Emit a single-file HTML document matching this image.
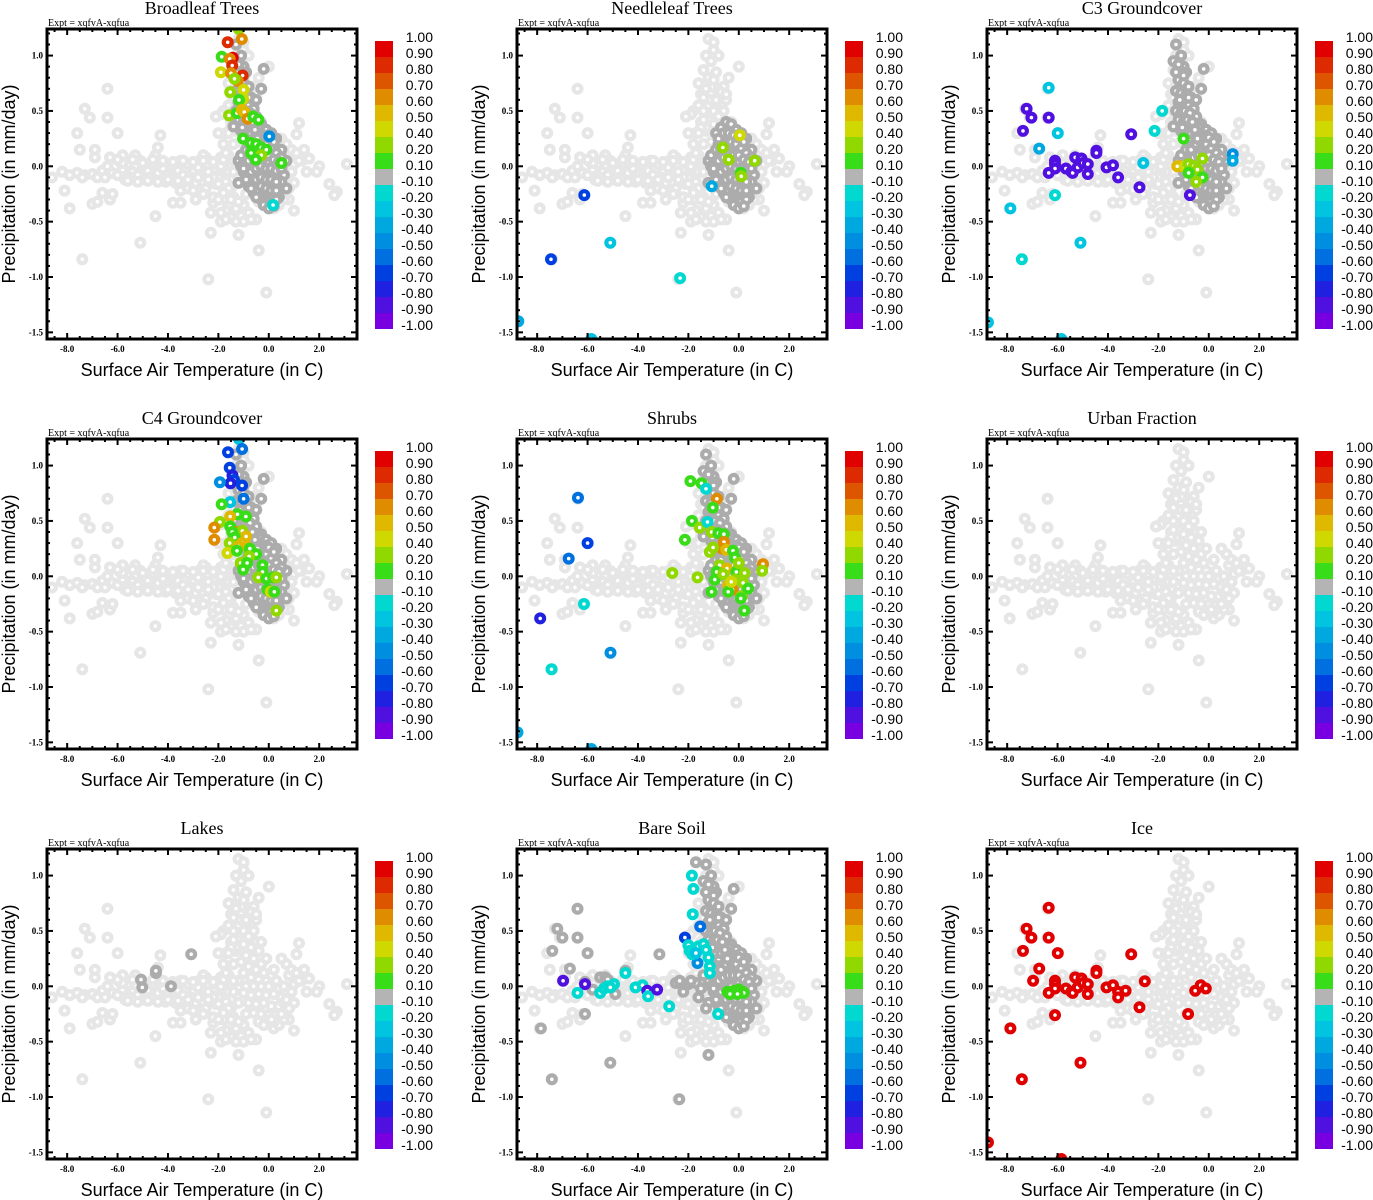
<!DOCTYPE html>
<html><head><meta charset="utf-8"><style>
html,body{margin:0;padding:0;background:#fff}
svg{display:block}
</style></head><body>
<svg id="fig" xmlns="http://www.w3.org/2000/svg" width="1373" height="1200" viewBox="0 0 1373 1200"></svg>
<script>
// shared background cloud (T in C, P in mm/day)
const cloudT=[-8.6,-8.2,-7.9,-7.6,-7.3,-7.0,-6.8,-6.6,-6.4,-6.2,-6.0,-5.8,-5.6,-5.4,-5.2,-5.0,-4.8,-4.6,-4.4,-4.2,-4.0,-3.8,-3.6,-3.4,-3.2,-3.0,-2.8,-2.6,-2.4,-2.2,-2.0,-1.8,-1.6,-6.5,-5.9,-5.5,-5.1,-4.7,-4.3,-3.9,-3.5,-3.1,-2.7,-2.3,-1.9,-1.5,-7.4,-6.9,-6.3,-5.3,-4.5,-3.7,-2.9,-2.5,-5.7,-4.9,-4.1,-3.3,-2.1,-1.7,
-7.6,-7.3,-7.1,-6.4,-6.4,-6.0,-7.9,-7.4,-5.1,-2.4,-0.1,-8.1,-6.6,-6.3,-7.0,-6.8,-4.5,-3.8,-3.5,-1.9,-1.5,-1.2,-0.5,-0.4,1.2,1.1,1.6,2.0,2.4,2.7,2.6,3.1,1.9,1.0,0.8,-4.4,-4.3,-5.8,-7.5,-6.9,-1.6,-1.8,-2.0,-1.9,-2.6,-2.9,-2.2,-2.5,-1.3,-1.7,-1.0,0.2,0.4,0.6,0.8,0.9,1.3,1.5,0.7,0.5,-2.3,-3.2,-2.8,-1.4,-1.1,-0.8,
-1.2,-1.0,-1.3,-1.1,-0.9,-1.4,-1.2,-1.0,-0.8,-1.3,-1.5,-1.1,-0.7,-0.9,-1.2,-1.4,-1.0,-0.6,-0.8,-1.2,-1.5,-0.5,-1.0,-0.7,-1.3,-0.4,-0.9,-0.6,-1.1,-0.3,-0.8,-0.5,-1.0,-0.2,0.2,-0.7,-0.4,-0.1,0.3,-1.2,-0.9,-0.6,-0.3,0.0,0.4,-1.0,-0.7,-0.4,-0.1,0.2,0.5,-0.8,-0.5,-0.2,0.1,0.4,-0.6,-0.3,0.0,0.3,-0.4,-0.1,0.2,0.5,0.6,0.6,-0.1,-0.3,-1.4,-1.6,-1.4,-1.6,-1.8,-2.0,-0.6,-1.0,-0.8,-1.7,-1.9,-1.2,-0.9,-1.5,-0.2,0.1,-1.8,-1.3,-0.5,0.0,1.0,0.9,-2.2,-2.4,
-6.2,-5.8,-5.4,-5.0,-4.6,-4.2,-3.8,-3.4,-3.0,-2.6,-2.2,-1.8,-1.4,-6.0,-5.6,-5.2,-4.8,-4.4,-4.0,-3.6,-3.2,-2.8,-2.4,-2.0,-1.6,-3.5,-3.0,-2.6,-2.2,-1.8,-2.0,-2.3,-1.7,-1.3,-1.0,-0.7,-1.9,-1.5,-1.2,0.8,1.0,1.2,0.9,0.7,1.1,1.4,-1.7,-1.5,-1.6,-2.1,-1.4,-1.1,-0.9,-0.7,-0.5,-1.4,-1.6,-0.6,-0.4];
const cloudP=[-0.1,-0.05,-0.08,-0.06,-0.08,-0.07,-0.1,-0.04,0.0,-0.06,-0.08,-0.03,0.02,-0.05,-0.08,0.0,-0.04,0.02,-0.06,-0.02,-0.08,0.0,-0.04,-0.08,0.02,-0.05,-0.01,-0.07,0.0,-0.04,-0.08,0.0,-0.05,-0.1,0.04,-0.1,0.05,-0.1,0.04,-0.12,0.05,-0.1,0.06,-0.12,0.08,-0.12,-0.1,0.08,0.08,0.1,0.1,-0.15,-0.15,0.08,-0.12,-0.12,-0.14,-0.16,-0.16,-0.14,
0.3,0.52,0.44,0.7,0.44,0.3,-0.38,-0.84,-0.69,-1.02,-1.14,-0.22,-0.24,-0.3,-0.34,-0.32,-0.45,-0.33,-0.33,-0.5,-0.46,-0.62,-0.48,-0.76,0.39,0.29,0.07,0.0,-0.16,-0.23,-0.26,0.02,-0.05,-0.15,-0.3,0.17,0.28,0.1,0.15,0.15,0.55,0.5,0.3,0.47,0.1,-0.3,-0.33,-0.2,-0.38,-0.4,-0.35,-0.38,-0.35,-0.3,0.1,-0.05,0.05,-0.05,0.2,0.25,-0.6,-0.2,-0.22,-0.28,-0.45,-0.42,
1.15,1.12,1.0,0.95,0.85,0.87,0.8,0.78,0.7,0.7,0.65,0.65,0.62,0.57,0.55,0.5,0.5,0.5,0.45,0.42,0.4,0.4,0.38,0.35,0.32,0.32,0.28,0.25,0.22,0.2,0.18,0.15,0.12,0.12,0.15,0.08,0.06,0.05,0.05,0.05,0.0,0.0,0.0,0.0,-0.02,-0.06,-0.08,-0.07,-0.08,-0.07,-0.1,-0.15,-0.16,-0.15,-0.18,-0.18,-0.24,-0.25,-0.26,-0.26,-0.32,-0.33,-0.32,-0.25,0.0,-0.15,0.25,0.4,0.2,0.1,-0.05,-0.2,0.2,-0.1,0.72,1.05,1.0,0.3,0.0,-0.15,-0.25,-0.2,-0.35,-0.3,-0.3,0.35,0.6,0.9,-0.4,0.15,-0.1,-0.05,-0.25,
0.03,0.06,0.03,0.06,0.05,0.04,0.05,0.04,0.05,0.04,0.06,0.05,0.06,-0.13,-0.14,-0.13,-0.14,-0.12,-0.13,-0.12,-0.1,-0.12,-0.16,-0.2,-0.22,-0.22,-0.25,-0.28,-0.24,-0.3,-0.42,-0.48,-0.5,-0.5,-0.48,-0.42,-0.3,-0.32,-0.2,0.02,0.05,-0.05,-0.12,0.12,0.15,0.12,0.35,0.3,0.45,0.42,0.6,0.6,0.67,0.65,0.62,0.75,0.25,0.8,0.68];
// dense lower blob (dark in vegetated panels)
const blobT=[-1.2,-1.0,-0.8,-0.6,-0.4,-0.2,0.0,0.2,0.4,0.6,-1.1,-0.9,-0.7,-0.5,-0.3,-0.1,0.1,0.3,0.5,-1.0,-0.8,-0.6,-0.4,-0.2,0.0,0.2,0.4,0.6,-0.9,-0.7,-0.5,-0.3,-0.1,0.1,0.3,0.5,-0.8,-0.6,-0.4,-0.2,0.0,0.2,0.4,-0.6,-0.4,-0.2,0.0,0.2,0.4,-0.3,-0.1,0.1,0.3,-0.9,-0.7,-0.5,-0.3,-0.1,0.1,0.3,-0.6,-0.4,-0.2,0.0,0.5,0.7,0.7,-1.2,0.2,
-1.1,-0.9,-0.7,-0.5,-0.3,-0.1,0.1,0.3,0.5,-1.0,-0.8,-0.6,-0.4,-0.2,0.0,0.2,0.4,-0.9,-0.7,-0.5,-0.3,-0.1,0.1,0.3,0.5,-0.7,-0.5,-0.3,-0.1,0.1,0.3,-0.5,-0.3,-0.1,0.1,0.3,-0.8,-0.6,-0.4,-0.2,0.0,0.2];
const blobP=[0.05,0.1,0.2,0.25,0.3,0.25,0.2,0.15,0.1,0.05,0.0,0.02,0.08,0.12,0.15,0.12,0.08,0.05,0.0,-0.05,-0.03,0.0,0.03,0.05,0.03,0.0,-0.03,-0.08,-0.1,-0.1,-0.08,-0.06,-0.08,-0.07,-0.09,-0.14,-0.18,-0.16,-0.15,-0.14,-0.16,-0.17,-0.2,-0.24,-0.22,-0.22,-0.24,-0.25,-0.28,-0.3,-0.32,-0.32,-0.3,0.3,0.35,0.4,0.38,0.33,0.3,0.25,0.18,0.2,-0.35,-0.38,0.15,-0.2,0.05,-0.15,-0.36,
0.1,0.15,0.15,0.2,0.22,0.2,0.16,0.12,0.08,-0.02,0.05,0.08,0.1,0.1,0.1,0.06,0.04,-0.12,-0.05,-0.02,0.0,-0.02,-0.02,-0.04,-0.02,-0.2,-0.12,-0.1,-0.12,-0.12,-0.14,-0.28,-0.18,-0.2,-0.22,-0.22,0.25,0.3,0.3,0.28,0.26,0.22];
// upper plume (dark in most vegetated panels)
const plumeT=[-1.3,-1.1,-1.4,-1.0,-1.3,-0.9,-1.2,-1.0,-0.8,-1.3,-1.1,-0.9,-0.7,-1.2,-1.0,-0.8,-0.6,-1.3,-1.1,-0.9,-0.7,-0.5,-1.2,-1.0,-0.8,-0.6,-0.4,-1.1,-0.9,-0.7,-0.5,-0.3,-0.2,-0.5,-1.4,-0.3,
-1.2,-1.0,-0.8,-1.15,-0.95,-0.75,-1.05,-0.85,-0.65,-0.55,-0.45];
const plumeP=[1.1,1.0,0.95,0.9,0.85,0.85,0.78,0.75,0.72,0.68,0.66,0.64,0.62,0.58,0.56,0.55,0.52,0.5,0.48,0.46,0.44,0.45,0.42,0.4,0.38,0.36,0.35,0.32,0.3,0.3,0.28,0.26,0.88,0.6,0.36,0.7,
0.92,0.82,0.62,0.6,0.5,0.48,0.35,0.42,0.4,0.33,0.25];
// panel highlight series: T, P, correlation value
const brT=[-1.19,-1.07,-1.63,-1.87,-1.43,-1.55,-1.45,-1.9,-1.5,-1.04,-1.23,-1.36,-1.53,-1.0,-1.02,-1.18,-1.58,-1.26,-1.07,-0.97,-0.84,-0.62,-0.41,0.02,-1.02,-0.72,-0.5,-0.3,-0.1,-0.7,-0.3,-0.52,0.5,0.17];
const brP=[1.24,1.15,1.12,0.99,0.98,0.97,0.91,0.85,0.84,0.82,0.77,0.79,0.67,0.69,0.61,0.6,0.46,0.48,0.51,0.49,0.43,0.45,0.42,0.27,0.25,0.21,0.2,0.17,0.15,0.12,0.1,0.06,0.03,-0.35];
const brV=[0.2,0.6,0.8,0.1,0.9,0.6,0.8,0.4,0.6,0.8,0.6,0.2,0.2,0.4,0.4,0.1,0.2,0.1,0.5,0.5,0.6,0.1,0.1,-0.5,0.1,0.1,0.1,0.1,0.1,0.1,0.2,0.1,0.1,-0.2];
const ndT=[0.04,-0.63,0.63,0.08,-1.07,-6.13,-7.45,-5.1,-2.33,-8.75,-5.85,-0.4,0.1];
const ndP=[0.28,0.17,0.05,-0.06,-0.18,-0.26,-0.84,-0.69,-1.01,-1.4,-1.56,0.06,-0.09];
const ndV=[0.4,0.2,0.2,0.1,-0.4,-0.7,-0.7,-0.3,-0.2,-0.4,-0.3,0.2,0.2];
const icT=[-6.35,-7.23,-7.04,-6.35,-7.37,-5.99,-3.08,-6.73,-4.46,-6.97,-2.54,-6.1,-6.1,-6.1,-5.3,-5.05,-5.67,-5.45,-5.4,-5.2,-5.0,-4.8,-4.8,-4.06,-3.8,-3.6,-3.6,-3.3,-6.35,-2.75,-0.82,-0.54,-0.32,-0.12,-6.1,-7.87,-5.09,-7.42,-8.76,-5.85,-4.46];
const icP=[0.71,0.52,0.44,0.44,0.32,0.3,0.29,0.16,0.14,0.05,0.045,0.05,0.02,-0.02,0.08,0.07,-0.02,-0.05,-0.06,-0.01,0.03,0.02,-0.07,-0.01,0.01,-0.05,-0.1,-0.04,-0.06,-0.19,-0.25,-0.04,0.01,-0.02,-0.26,-0.38,-0.69,-0.84,-1.41,-1.56,0.12];
const icV=[0.95,0.95,0.95,0.95,0.95,0.95,0.95,0.95,0.95,0.95,0.95,0.95,0.95,0.95,0.95,0.95,0.95,0.95,0.95,0.95,0.95,0.95,0.95,0.95,0.95,0.95,0.95,0.95,0.95,0.95,0.95,0.95,0.95,0.95,0.95,0.95,0.95,0.95,0.95,0.95,0.95];
const c3T=[-6.35,-7.23,-7.04,-6.35,-7.37,-5.99,-3.08,-6.73,-4.46,-6.1,-6.1,-6.1,-5.3,-5.05,-5.67,-5.45,-5.4,-5.2,-5.0,-4.8,-4.8,-4.06,-3.8,-3.6,-2.75,-6.35,-6.1,-7.87,-5.09,-7.42,-8.76,-5.85,-4.46,-1.85,-2.15,-2.6,0.95,0.95,-1.0,-0.25,-1.15,-1.25,-0.95,-0.8,-0.6,-0.45,-0.25,-0.5,-0.8,-0.75];
const c3P=[0.71,0.52,0.44,0.44,0.32,0.3,0.29,0.16,0.14,0.05,0.02,-0.02,0.08,0.07,-0.02,-0.05,-0.06,-0.01,0.03,0.02,-0.07,-0.01,0.01,-0.1,-0.19,-0.06,-0.26,-0.38,-0.69,-0.84,-1.41,-1.56,0.12,0.5,0.32,0.03,0.11,0.05,0.25,0.07,0.0,0.0,0.0,0.02,0.0,-0.03,-0.1,-0.14,-0.06,-0.26];
const c3V=[-0.3,-0.9,-0.9,-0.9,-0.9,-0.3,-0.9,-0.4,-0.9,-0.9,-0.9,-0.9,-0.9,-0.9,-0.9,-0.9,-0.9,-0.9,-0.9,-0.9,-0.9,-0.9,-0.9,-0.9,-0.9,-0.9,-0.2,-0.3,-0.3,-0.2,-0.3,-0.3,-0.9,-0.2,-0.2,-0.3,-0.5,-0.4,0.1,0.2,0.5,0.5,0.4,0.2,0.2,0.2,0.1,0.2,0.1,-0.9];
const c4T=[-1.18,-1.06,-1.62,-1.55,-1.44,-1.38,-1.52,-1.94,-1.06,-1.53,-1.0,-1.87,-1.24,-0.91,-1.53,-1.94,-2.16,-2.16,-1.53,-1.3,-1.05,-0.9,-1.45,-1.35,-1.55,-1.07,-1.2,-0.88,-1.64,-1.26,-0.75,-0.5,-0.78,-1.12,-0.86,-1.02,-0.25,-0.25,-0.42,-0.09,0.17,0.3,-0.05,0.08,0.22,0.3];
const c4P=[1.24,1.15,1.12,0.98,0.91,0.87,0.84,0.85,0.82,0.67,0.7,0.65,0.56,0.54,0.54,0.49,0.44,0.33,0.45,0.4,0.41,0.36,0.4,0.35,0.3,0.3,0.27,0.27,0.21,0.23,0.25,0.2,0.18,0.12,0.12,0.06,0.1,0.04,-0.01,-0.02,-0.01,-0.01,-0.12,-0.14,-0.14,-0.31];
const c4V=[-0.3,-0.6,-0.7,-0.7,-0.8,-0.7,-0.8,-0.5,-0.7,-0.3,-0.6,0.1,0.1,0.1,0.5,0.2,0.6,0.6,0.1,0.6,0.2,0.5,0.1,0.1,0.2,0.5,0.5,0.5,0.4,0.1,0.1,0.1,0.2,0.2,0.1,0.1,0.1,0.1,0.2,0.1,0.1,0.2,0.1,0.4,0.1,0.2];
const shT=[-6.38,-6.0,-6.75,-6.14,-7.88,-7.43,-5.09,-8.78,-5.85,-1.92,-1.48,-1.3,-0.87,-1.03,-1.86,-1.55,-1.24,-2.14,-1.08,-0.81,-0.59,-0.59,-0.66,-0.49,-1.15,-1.02,-0.23,-0.16,-0.76,-0.47,-0.88,-2.64,-1.64,-0.95,-0.62,-0.1,0.23,-0.16,0.17,0.96,0.93,-0.42,-0.25,-1.08,-0.42,0.11,0.37,0.08,0.22,0.0,-0.3];
const shP=[0.71,0.3,0.16,-0.25,-0.38,-0.84,-0.69,-1.41,-1.56,0.86,0.84,0.79,0.7,0.62,0.5,0.44,0.49,0.33,0.4,0.39,0.38,0.31,0.25,0.24,0.22,0.26,0.23,0.17,0.1,0.07,0.04,0.03,-0.01,-0.03,0.02,0.04,0.03,-0.03,-0.06,0.11,0.05,-0.08,-0.12,-0.14,-0.14,-0.18,-0.11,-0.2,-0.31,0.12,-0.05];
const shV=[-0.6,-0.7,-0.6,-0.2,-0.8,-0.2,-0.5,-0.4,-0.4,0.1,0.1,-0.2,0.6,0.1,0.1,0.2,-0.2,0.1,0.2,0.1,0.1,0.6,0.6,0.5,0.2,0.2,0.1,0.1,0.2,0.5,0.1,0.2,0.2,0.1,0.2,0.1,0.2,0.2,0.2,0.6,0.2,0.5,0.6,0.1,0.1,0.2,0.1,0.1,0.1,0.2,0.4];
const bsT=[-1.86,-1.8,-1.83,-1.53,-2.14,-1.64,-2.0,-1.95,-1.85,-1.6,-1.4,-1.3,-1.2,-1.15,-1.15,-1.7,-6.97,-6.1,-6.4,-5.5,-5.35,-5.2,-4.95,-5.1,-4.5,-4.1,-3.82,-3.63,-3.6,-3.24,-2.76,-0.82,-0.45,-0.3,-0.15,0.0,0.15,0.2,-0.35,-0.05];
const bsP=[1.0,0.88,0.65,0.54,0.44,0.21,0.37,0.32,0.29,0.36,0.38,0.33,0.26,0.18,0.12,0.3,0.05,0.02,-0.06,-0.06,-0.02,0.0,0.02,-0.01,0.12,-0.01,0.01,-0.04,-0.09,-0.03,-0.18,-0.25,-0.05,-0.05,-0.04,-0.03,-0.05,-0.06,-0.07,-0.07];
const bsV=[-0.2,-0.2,-0.2,-0.6,-0.7,-0.5,-0.2,-0.2,-0.2,-0.2,-0.2,-0.2,-0.2,-0.2,-0.2,-0.3,-0.9,-0.9,-0.2,-0.2,-0.2,-0.2,-0.2,-0.2,-0.2,-0.2,-0.2,-0.9,-0.2,-0.9,-0.2,-0.2,0.1,0.1,0.1,0.1,0.1,0.1,0.1,0.1];
// dark (near-zero) band points for bare soil
const bsDarkT=[-7.2,-7.0,-6.4,-6.4,-6.0,-7.4,-6.7,-6.1,-6.1,-7.85,-7.42,-5.1,-2.36,-5.5,-5.3,-4.9,-5.2,-4.5,-3.15,-2.5,-2.35,-2.0,-1.7,-1.3,-1.2,-5.8,-1.5,-1.4,-1.7,-2.2,-1.9,-1.6];
const bsDarkP=[0.52,0.44,0.7,0.44,0.3,0.32,0.16,0.04,-0.25,-0.38,-0.84,-0.69,-1.02,0.08,0.08,-0.07,0.06,0.14,0.29,0.03,0.05,0.02,0.03,-0.2,-0.62,-0.03,-0.02,0.1,1.12,-0.05,0.05,-0.1];
const lkT=[-5.07,-5.02,-4.48,-4.48,-3.88,-3.08];
const lkP=[0.06,-0.01,0.12,0.14,0.0,0.29];
const lkV=[0,0,0,0,0,0];
// colour bar
const cbLabels=["1.00","0.90","0.80","0.70","0.60","0.50","0.40","0.20","0.10","-0.10","-0.20","-0.30","-0.40","-0.50","-0.60","-0.70","-0.80","-0.90","-1.00"];
const cbBounds=[1,0.9,0.8,0.7,0.6,0.5,0.4,0.2,0.1,-0.1,-0.2,-0.3,-0.4,-0.5,-0.6,-0.7,-0.8,-0.9,-1];
const cbColors=["#e00000","#dd2a00","#de5500","#e08c00","#dfb800","#cfd800","#90d800","#38dc18","#b4b4b4","#00d8d0","#00c4e0","#00a8e0","#008ee0","#0070e0","#0040e0","#2020e0","#5010e0","#7800e0"];
const titles=["Broadleaf Trees","Needleleaf Trees","C3 Groundcover","C4 Groundcover","Shrubs","Urban Fraction","Lakes","Bare Soil","Ice"];
const xTicks=[-8,-6,-4,-2,0,2];
const yTicks=[1.0,0.5,0.0,-0.5,-1.0,-1.5];
const xMin=-8.8,xMax=3.5,yMin=-1.56,yMax=1.24;
const LIGHT="#e6e6e6",DARK="#acacac";
const panels=[
 {blob:true,plume:true,t:brT,p:brP,v:brV},
 {blob:true,plume:false,t:ndT,p:ndP,v:ndV},
 {blob:true,plume:true,t:c3T,p:c3P,v:c3V},
 {blob:true,plume:true,t:c4T,p:c4P,v:c4V},
 {blob:true,plume:true,t:shT,p:shP,v:shV},
 {blob:false,plume:false,t:[],p:[],v:[]},
 {blob:false,plume:false,t:lkT,p:lkP,v:lkV},
 {blob:true,plume:true,t:bsT,p:bsP,v:bsV,dt:bsDarkT,dp:bsDarkP},
 {blob:false,plume:false,t:icT,p:icP,v:icV}
];
const NS="http://www.w3.org/2000/svg";
const svg=document.getElementById('fig');
function mk(tag,attrs,parent){const e=document.createElementNS(NS,tag);for(const k in attrs)e.setAttribute(k,attrs[k]);(parent||svg).appendChild(e);return e;}
function colorFor(v){for(let i=0;i<cbColors.length;i++){if(v>=cbBounds[i+1])return cbColors[i];}return cbColors[cbColors.length-1];}
panels.forEach((pn,idx)=>{
 const c=idx%3,r=Math.floor(idx/3),ox=470*c,oy=410*r;
 const L=47+ox,R=357+ox,T=29+oy,B=339+oy;
 const sx=t=>L+(t-xMin)/(xMax-xMin)*(R-L);
 const sy=p=>B-(p-yMin)/(yMax-yMin)*(B-T);
 const g=mk('g',{});
 
 
 const ti=mk('text',{x:202+ox,y:14+oy,'text-anchor':'middle','font-family':'Liberation Serif, serif','font-size':18},g);
 ti.textContent=titles[idx];
 
 
 const ex=mk('text',{x:48+ox,y:26+oy,'font-family':'Liberation Serif, serif','font-size':10},g);
 ex.textContent="Expt = xqfvA-xqfua";
 
 
 const pts=mk('g',{},g);
 
 
 const cp=mk('clipPath',{id:'cl'+idx},g);mk('rect',{x:L,y:T,width:R-L,height:B-T},cp);
 pts.setAttribute('clip-path','url(#cl'+idx+')');
 function dot(t,p,col){const e=mk('circle',{cx:sx(t).toFixed(1),cy:sy(p).toFixed(1),r:3.9,fill:'#fff',stroke:col,'stroke-width':4.2},pts);
  
  }
 for(let i=0;i<cloudT.length;i++)dot(cloudT[i],cloudP[i],LIGHT);
 if(pn.blob)for(let i=0;i<blobT.length;i++)dot(blobT[i],blobP[i],DARK);
 if(pn.plume)for(let i=0;i<plumeT.length;i++)dot(plumeT[i],plumeP[i],DARK);
 if(pn.dt)for(let i=0;i<pn.dt.length;i++)dot(pn.dt[i],pn.dp[i],DARK);
 for(let i=0;i<pn.t.length;i++)dot(pn.t[i],pn.p[i],pn.v[i]===0?DARK:colorFor(pn.v[i]));
 const fr=mk('rect',{x:L,y:T,width:R-L,height:B-T,fill:'none',stroke:'#000','stroke-width':3},g);
 
 
 for(let t=-8.5;t<=3.5;t+=0.5){const X=sx(t);const maj=Math.abs(t%2)<1e-6;const len=maj?6:3;
  mk('line',{x1:X,y1:B,x2:X,y2:B-len,stroke:'#000','stroke-width':2},g);mk('line',{x1:X,y1:T,x2:X,y2:T+len,stroke:'#000','stroke-width':2},g);}
 for(let k=-15;k<=12;k++){const p=k/10;const Y=sy(p);const maj=k%5===0;const len=maj?6:3;
  mk('line',{x1:L,y1:Y,x2:L+len,y2:Y,stroke:'#000','stroke-width':2},g);mk('line',{x1:R,y1:Y,x2:R-len,y2:Y,stroke:'#000','stroke-width':2},g);}
 xTicks.forEach(t=>{const e=mk('text',{x:sx(t),y:B+13,'text-anchor':'middle','font-family':'Liberation Serif, serif','font-size':9,'font-weight':'bold'},g);e.textContent=t.toFixed(1);
  
  });
 yTicks.forEach(p=>{const e=mk('text',{x:L-4,y:sy(p)+3,'text-anchor':'end','font-family':'Liberation Serif, serif','font-size':9,'font-weight':'bold'},g);e.textContent=p.toFixed(1);
  
  });
 const xt=mk('text',{x:202+ox,y:376+oy,'text-anchor':'middle','font-family':'Liberation Sans, sans-serif','font-size':18},g);xt.textContent="Surface Air Temperature (in C)";
 
 
 const yt=mk('text',{x:0,y:0,'text-anchor':'middle','font-family':'Liberation Sans, sans-serif','font-size':18,transform:`translate(${15+ox},${184+oy}) rotate(-90)`},g);yt.textContent="Precipitation (in mm/day)";
 
 
 const cb=mk('g',{},g);
 
 
 cbColors.forEach((col,i)=>{mk('rect',{x:375+ox,y:41+oy+16*i,width:18,height:16,fill:col},cb);});
 cbLabels.forEach((lab,i)=>{const e=mk('text',{x:433+ox,y:42+oy+16*i,'text-anchor':'end','font-family':'Liberation Sans, sans-serif','font-size':14},cb);e.textContent=lab;
  
  });
});
</script>
</body></html>
